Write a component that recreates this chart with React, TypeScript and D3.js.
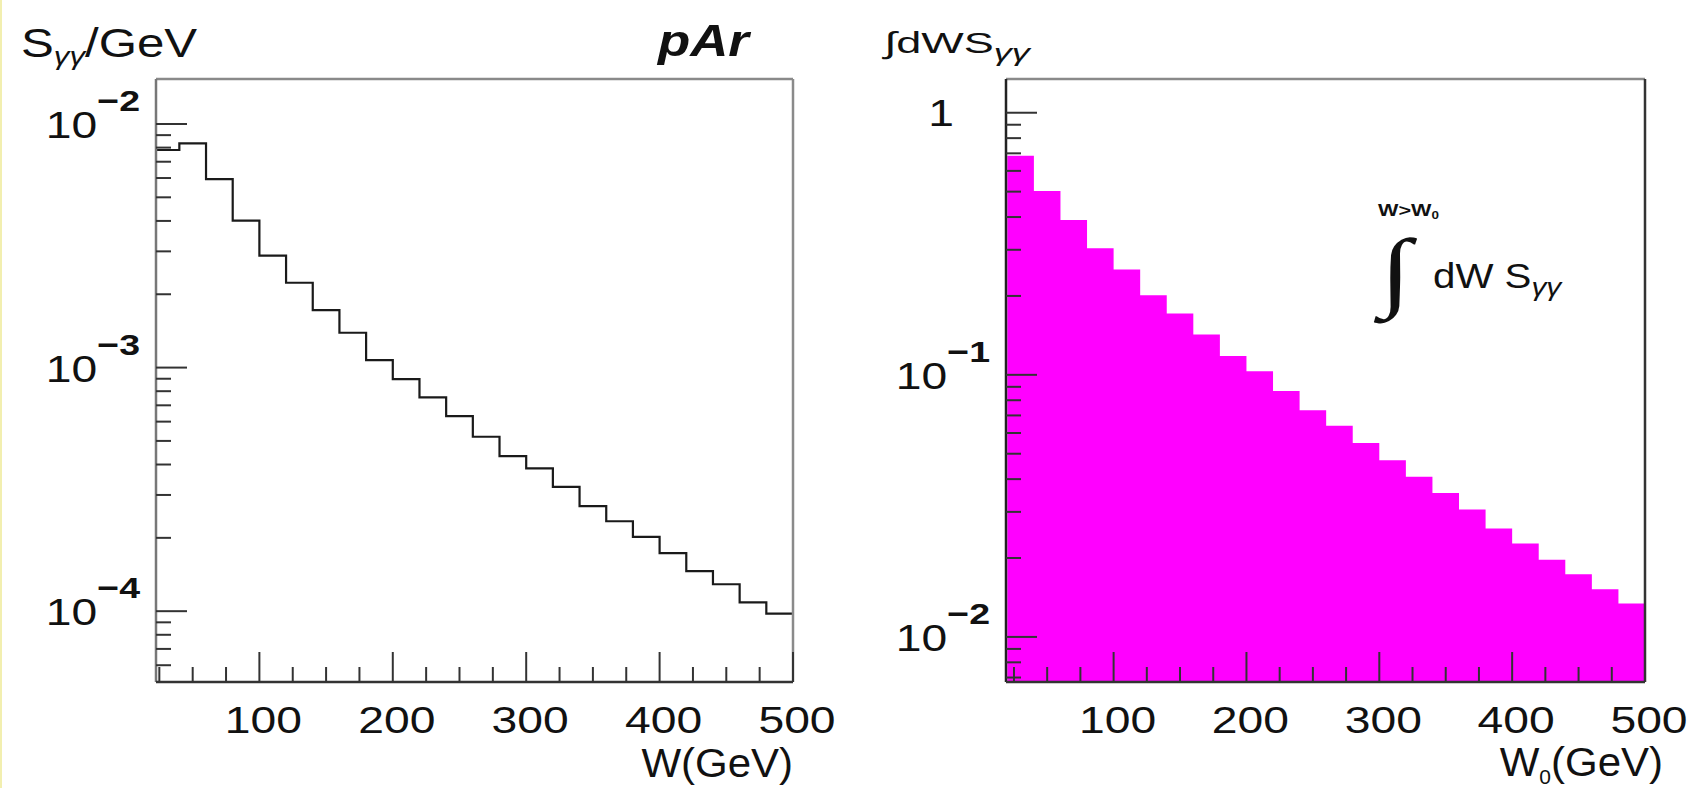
import React from "react";
import * as d3 from "d3";

// ---------- data ----------
const binLow = [20, 40, 60, 80, 100, 120, 140, 160, 180, 200, 220, 240, 260, 280, 300, 320, 340, 360, 380, 400, 420, 440, 460, 480];
const binWidth = 20;
const sGammaGamma = [7.82e-3, 8.33e-3, 5.94e-3, 4.01e-3, 2.88e-3, 2.23e-3, 1.72e-3, 1.39e-3, 1.073e-3, 8.97e-4, 7.54e-4, 6.32e-4, 5.2e-4, 4.33e-4, 3.86e-4, 3.24e-4, 2.7e-4, 2.34e-4, 2.02e-4, 1.73e-4, 1.46e-4, 1.29e-4, 1.086e-4, 9.78e-5];
const integralS = [0.685, 0.503, 0.39, 0.304, 0.2525, 0.2014, 0.1715, 0.1426, 0.1179, 0.1033, 0.0867, 0.0733, 0.0639, 0.055, 0.0472, 0.0408, 0.0354, 0.0306, 0.0259, 0.0227, 0.0197, 0.01735, 0.0152, 0.0134];
const xTickLabels = [100, 200, 300, 400, 500];
const leftDecades = [-4, -3, -2];
const rightDecades = [-2, -1, 0];

const FONT = "'Liberation Sans', Arial, Helvetica, sans-serif";
const SX = 1.25;

function logTicks(domain: [number, number]) {
  const out: { v: number; major: boolean }[] = [];
  const lo = Math.floor(Math.log10(domain[0]));
  const hi = Math.ceil(Math.log10(domain[1]));
  for (let d = lo; d <= hi; d++) {
    for (let k = 1; k <= 9; k++) {
      const v = k * Math.pow(10, d);
      if (v >= domain[0] && v <= domain[1]) out.push({ v, major: k === 1 });
    }
  }
  return out;
}

function T({ x, y, anchor = "start", size, sx = SX, children, weight, style, family = FONT }: any) {
  return (
    <text
      transform={`translate(${x},${y}) scale(${sx},1)`}
      textAnchor={anchor}
      fontSize={size}
      fontFamily={family}
      fontWeight={weight}
      fontStyle={style}
      fill="#111"
    >
      {children}
    </text>
  );
}

function Panel({ x0, x1, y0, y1, xDomain, yDomain, values, filled, decades, id }: any) {
  const x = d3.scaleLinear().domain(xDomain).range([x0, x1]);
  const y = d3.scaleLog().domain(yDomain).range([y1, y0]);
  const pts: [number, number][] = binLow.map((b, i) => [b, values[i]] as [number, number]);
  pts.push([binLow[binLow.length - 1] + binWidth, values[values.length - 1]]);
  const line = d3
    .line<[number, number]>()
    .x((d) => x(d[0]))
    .y((d) => y(d[1]))
    .curve(d3.curveStepAfter);
  const area = d3
    .area<[number, number]>()
    .x((d) => x(d[0]))
    .y0(y1)
    .y1((d) => y(d[1]))
    .curve(d3.curveStepAfter);
  const yt = logTicks(yDomain);
  const xt = d3.range(25, 501, 25);
  return (
    <g>
      <defs>
        <clipPath id={id}>
          <rect x={x0} y={y0} width={x1 - x0} height={y1 - y0} />
        </clipPath>
      </defs>
      <g clipPath={`url(#${id})`}>
        {filled ? (
          <path d={area(pts) || ""} fill="#ff00ff" stroke="none" />
        ) : (
          <path d={line(pts) || ""} fill="none" stroke="#1a1a1a" strokeWidth={2.2} />
        )}
      </g>
      {/* frame */}
      <line x1={x0} x2={x1} y1={y0} y2={y0} stroke="#8a8a8a" strokeWidth={2.5} />
      <line x1={x1} x2={x1} y1={y0} y2={y1} stroke={filled ? "#333" : "#8a8a8a"} strokeWidth={2.5} />
      <line x1={x0} x2={x0} y1={y0} y2={y1} stroke={filled ? "#222" : "#777"} strokeWidth={2.5} />
      <line x1={x0} x2={x1} y1={y1} y2={y1} stroke="#333" strokeWidth={2.5} />
      {/* y ticks */}
      {yt.map((t, i) => (
        <line
          key={"y" + i}
          x1={x0}
          x2={x0 + (t.major ? 31 : 15)}
          y1={y(t.v)}
          y2={y(t.v)}
          stroke="#333"
          strokeWidth={2}
        />
      ))}
      {/* x ticks */}
      {xt.map((v, i) => (
        <line
          key={"x" + i}
          x1={x(v)}
          x2={x(v)}
          y1={y1}
          y2={y1 - (v % 100 === 0 ? 30 : 15)}
          stroke="#333"
          strokeWidth={2}
        />
      ))}
      {xTickLabels.map((v) => (
        <T key={"xl" + v} x={x(v) + 4} y={733} anchor="middle" size={37}>
          {String(v)}
        </T>
      ))}
      {decades.map((d: number) =>
        d === 0 ? (
          <T key={"d" + d} x={x0 - 52} y={y(1) + 13} anchor="end" size={37}>
            1
          </T>
        ) : (
          <T key={"d" + d} x={x0 - 16} y={y(Math.pow(10, d)) + 14} anchor="end" size={37}>
            10
            <tspan dy={-27} fontSize={30} fontWeight="bold">
              {"\u2212" + Math.abs(d)}
            </tspan>
          </T>
        )
      )}
    </g>
  );
}

export default function App() {
  return (
    <svg
      width={1693}
      height={788}
      style={{ position: "absolute", left: 0, top: 0, background: "#fff" }}
    >
      <rect x={0} y={0} width={1693} height={788} fill="#fff" />
      <line x1={1} x2={1} y1={0} y2={788} stroke="#f2efb0" strokeWidth={2} />
      <Panel
        id="cl"
        x0={156}
        x1={793}
        y0={79}
        y1={682}
        xDomain={[22.5, 500]}
        yDomain={[5.12e-5, 1.53e-2]}
        values={sGammaGamma}
        filled={false}
        decades={leftDecades}
      />
      <Panel
        id="cr"
        x0={1006}
        x1={1645}
        y0={79}
        y1={682}
        xDomain={[19, 500]}
        yDomain={[6.73e-3, 1.345]}
        values={integralS}
        filled={true}
        decades={rightDecades}
      />
      {/* titles */}
      <T x={21} y={57} size={41} sx={1.2}>
        S
        <tspan fontSize={26} dy={8} fontStyle="italic">γγ</tspan>
        <tspan dy={-8}>/GeV</tspan>
      </T>
      <T x={658} y={56} size={44} sx={1.2} weight="bold" style="italic">
        pAr
      </T>
      <T x={884} y={53} size={30} sx={1.5}>
        ∫dWS
        <tspan fontSize={24} dy={8} fontStyle="italic">γγ</tspan>
      </T>
      <T x={793} y={777} anchor="end" size={40} sx={1.05}>
        W(GeV)
      </T>
      <T x={1663} y={776} anchor="end" size={40} sx={1.05}>
        W
        <tspan fontSize={20} dy={8}>0</tspan>
        <tspan dy={-8}>(GeV)</tspan>
      </T>
      {/* annotation */}
      <T x={1378} y={216} size={16} sx={1.35} weight="bold">
        W&gt;W
        <tspan fontSize={10} dy={3}>0</tspan>
      </T>
      <T x={1380} y={300} size={88} sx={1.3} style="italic" family="'Liberation Serif', 'DejaVu Serif', serif">
        ∫
      </T>
      <T x={1433} y={288} size={35} sx={1.15}>
        dW S
        <tspan fontSize={26} dy={8} fontStyle="italic">γγ</tspan>
      </T>
    </svg>
  );
}
